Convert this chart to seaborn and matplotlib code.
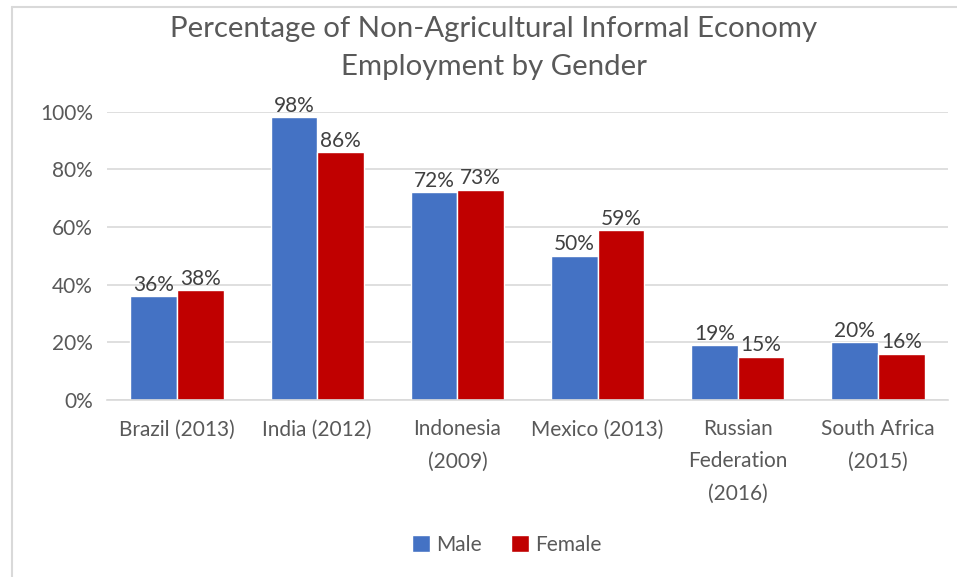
import matplotlib
matplotlib.use("Agg")
import matplotlib.pyplot as plt
from matplotlib.lines import Line2D
import seaborn as sns
import pandas as pd

# Data
countries = ["Brazil (2013)", "India (2012)", "Indonesia\n(2009)", "Mexico (2013)",
             "Russian\nFederation\n(2016)", "South Africa\n(2015)"]
male = [36, 98, 72, 50, 19, 20]
female = [38, 86, 73, 59, 15, 16]
genders = ["Male", "Female"]
yticks = [0, 20, 40, 60, 80, 100]

df = pd.DataFrame({
    "Country": countries * 2,
    "Gender": ["Male"] * len(countries) + ["Female"] * len(countries),
    "Value": male + female,
})

sns.set_theme(style="white")
plt.rcParams["font.family"] = ["Lato", "DejaVu Sans"]

text_gray = "#595959"
label_gray = "#404040"
grid_gray = "#D9D9D9"
palette = {"Male": "#4472C4", "Female": "#C00000"}

fig = plt.figure(figsize=(9.57, 5.77), dpi=100)
ax = fig.add_axes([107 / 957, 1 - 400 / 577, (948 - 107) / 957, (400 - 111.7) / 577])

sns.barplot(data=df, x="Country", y="Value", hue="Gender", hue_order=genders,
            palette=palette, width=2 / 3, gap=0, saturation=1, ax=ax, legend=True)

ax.set_ylim(0, 100)
ax.set_yticks(yticks)
ax.set_yticklabels([f"{v}%" for v in yticks], color=text_gray, fontsize=15)
ax.tick_params(axis="x", colors=text_gray, labelsize=15, length=0, pad=14)
ax.tick_params(axis="y", length=0, pad=10)
for lab in ax.get_xticklabels():
    lab.set_linespacing(1.75)
ax.set_xlabel("")
ax.set_ylabel("")
ax.yaxis.grid(True, color=grid_gray, linewidth=1.2)
ax.set_axisbelow(True)
for side in ["top", "right", "left"]:
    ax.spines[side].set_visible(False)
ax.spines["bottom"].set_color(grid_gray)
ax.spines["bottom"].set_linewidth(1.2)

for container in ax.containers:
    ax.bar_label(container, fmt="{:.0f}%", padding=1, fontsize=15, color=label_gray)

fig.text(494 / 957, 1 - 48 / 577,
         "Percentage of Non-Agricultural Informal Economy\nEmployment by Gender",
         ha="center", va="center", fontsize=21.2, color=text_gray, linespacing=1.6)

handles, labels = ax.get_legend_handles_labels()
ax.legend_.remove()
fig.legend(handles, labels, loc="center", bbox_to_anchor=(507 / 957, 1 - 545 / 577),
           ncol=2, frameon=False, fontsize=15, handlelength=0.85, handleheight=0.85,
           handletextpad=0.3, columnspacing=1.4, labelcolor=text_gray)

# outer frame lines
fig.add_artist(Line2D([12 / 957, 1], [1 - 7 / 577, 1 - 7 / 577], color=grid_gray, linewidth=1.5))
fig.add_artist(Line2D([12 / 957, 12 / 957], [0, 1 - 7 / 577], color=grid_gray, linewidth=1.5))

fig.savefig("out.png", dpi=100)
